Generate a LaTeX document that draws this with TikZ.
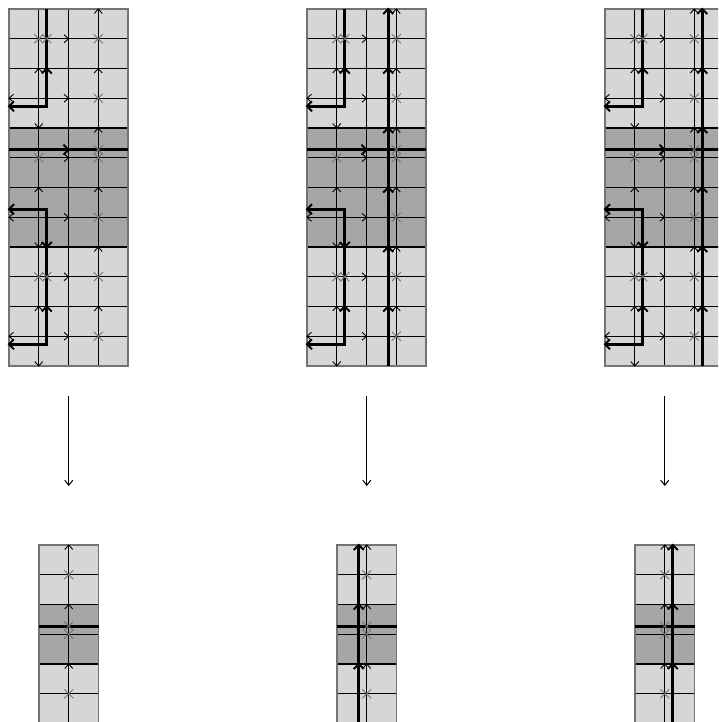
\documentclass[tikz,border=0pt]{standalone}
\usetikzlibrary{arrows.meta}
\tikzset{
  lg/.style={fill=black!16},
  dg/.style={fill=black!35},
  gl/.style={line width=1.1pt,black},
  bd/.style={line width=1.1pt,black!55},
  hd/.style={line width=0.9pt,black,line join=miter},
  th/.style={line width=2.7pt,black,line join=miter},
  thd/.style={line width=1.9pt,black,line join=miter},
  xm/.style={line width=0.8pt,black!55},
  conn/.style={line width=1pt,-{Straight Barb[length=5pt,width=8pt]}}
}
\newcommand{\mkU}[4]{\draw[#1] #2 ++(-#3,-#4) -- ++(#3,#4) -- ++(#3,-#4);}
\newcommand{\mkD}[4]{\draw[#1] #2 ++(-#3,#4) -- ++(#3,-#4) -- ++(#3,#4);}
\newcommand{\mkR}[4]{\draw[#1] #2 ++(-#4,#3) -- ++(#4,-#3) -- ++(-#4,-#3);}
\newcommand{\mkL}[4]{\draw[#1] #2 ++(#4,#3) -- ++(-#4,-#3) -- ++(#4,-#3);}
\newcommand{\tnU}[1]{\mkU{hd}{#1}{4pt}{4.5pt}}
\newcommand{\tnD}[1]{\mkD{hd}{#1}{4pt}{4.5pt}}
\newcommand{\tnR}[1]{\mkR{hd}{#1}{4pt}{4.5pt}}
\newcommand{\tnL}[1]{\mkL{hd}{#1}{4pt}{4.5pt}}
\newcommand{\tkU}[1]{\mkU{thd}{#1}{5pt}{5pt}}
\newcommand{\tkD}[1]{\mkD{thd}{#1}{5pt}{5pt}}
\newcommand{\tkR}[1]{\mkR{thd}{#1}{5pt}{5pt}}
\newcommand{\tkL}[1]{\mkL{thd}{#1}{5pt}{5pt}}
\newcommand{\xM}[1]{\draw[xm] #1 ++(-4.5pt,-4.5pt) -- ++(9pt,9pt) ++(-9pt,0pt) -- ++(9pt,-9pt);}
\begin{document}
\begin{tikzpicture}[x=29.75pt,y=-29.75pt]
\useasboundingbox (0pt,0pt) rectangle (718pt,-722pt);
\clip (0pt,0pt) rectangle (718pt,-722pt);
% top grids
\foreach \k in {0,1,2}{
 \begin{scope}[shift={(9pt+298pt*\k,-9pt)}]
  \fill[lg] (0,0) rectangle (4,4);
  \fill[dg] (0,4) rectangle (4,8);
  \fill[lg] (0,8) rectangle (4,12);
  \foreach \i in {1,2,3} {\draw[gl] (\i,0) -- (\i,12);}
  \foreach \j in {1,...,11} {\draw[gl] (0,\j) -- (4,\j);}
  \draw[bd] (0,0) rectangle (4,12);
  \foreach \r in {0,4,8}{
    \tnU{(3,\r)} \tnD{(1,\r+4)}
    \xM{(1,\r+1)} \xM{(3,\r+1)} \tnR{(2,\r+1)}
    \tnU{(1,\r+2)} \tnU{(3,\r+2)}
    \xM{(3,\r+3)} \tnL{(0,\r+3)} \tnR{(2,\r+3)}
  }
  \draw[th] (1.27,0) -- (1.27,3.27) -- (0,3.27);
  \draw[th] (0,4.73) -- (4,4.73);
  \draw[th] (0,6.73) -- (1.27,6.73) -- (1.27,11.27) -- (0,11.27);
  \tkU{(1.27,2)} \tkL{(0,3.27)} \tkR{(2,4.73)} \tkL{(0,6.73)}
  \tkD{(1.27,8)} \tkU{(1.27,10)} \tkL{(0,11.27)}
  \xM{(1.27,1)} \xM{(1.27,9)} \xM{(3,4.73)}
 \end{scope}
}
\begin{scope}[shift={(307pt,-9pt)}]
  \draw[th] (2.73,0) -- (2.73,12);
  \foreach \j in {0,2,...,10} {\tkU{(2.73,\j)}}
\end{scope}
\begin{scope}[shift={(605pt,-9pt)}]
  \draw[th] (3.27,0) -- (3.27,12);
  \foreach \j in {0,2,...,10} {\tkU{(3.27,\j)}}
\end{scope}
% bottom grids
\foreach \k in {0,1,2}{
 \begin{scope}[shift={(39pt+298pt*\k,-545pt)}]
  \fill[lg] (0,0) rectangle (2,2);
  \fill[dg] (0,2) rectangle (2,4);
  \fill[lg] (0,4) rectangle (2,6);
  \draw[gl] (1,0) -- (1,6);
  \foreach \j in {1,...,5} {\draw[gl] (0,\j) -- (2,\j);}
  \draw[bd] (0,0) rectangle (2,6);
  \foreach \j in {0,2,4} {\tnU{(1,\j)}}
  \foreach \j in {1,3,5} {\xM{(1,\j)}}
  \draw[th] (0,2.73) -- (2,2.73);
  \xM{(1,2.73)}
 \end{scope}
}
\begin{scope}[shift={(337pt,-545pt)}]
  \draw[th] (0.73,0) -- (0.73,6);
  \foreach \j in {0,2,4} {\tkU{(0.73,\j)}}
\end{scope}
\begin{scope}[shift={(635pt,-545pt)}]
  \draw[th] (1.27,0) -- (1.27,6);
  \foreach \j in {0,2,4} {\tkU{(1.27,\j)}}
\end{scope}
% connectors
\foreach \k in {0,1,2}{
  \coordinate (top\k) at (68.75pt+298pt*\k,-396pt);
  \coordinate (bot\k) at (68.75pt+298pt*\k,-486pt);
  \draw[conn] (top\k) -- (bot\k);
}
\end{tikzpicture}
\end{document}
